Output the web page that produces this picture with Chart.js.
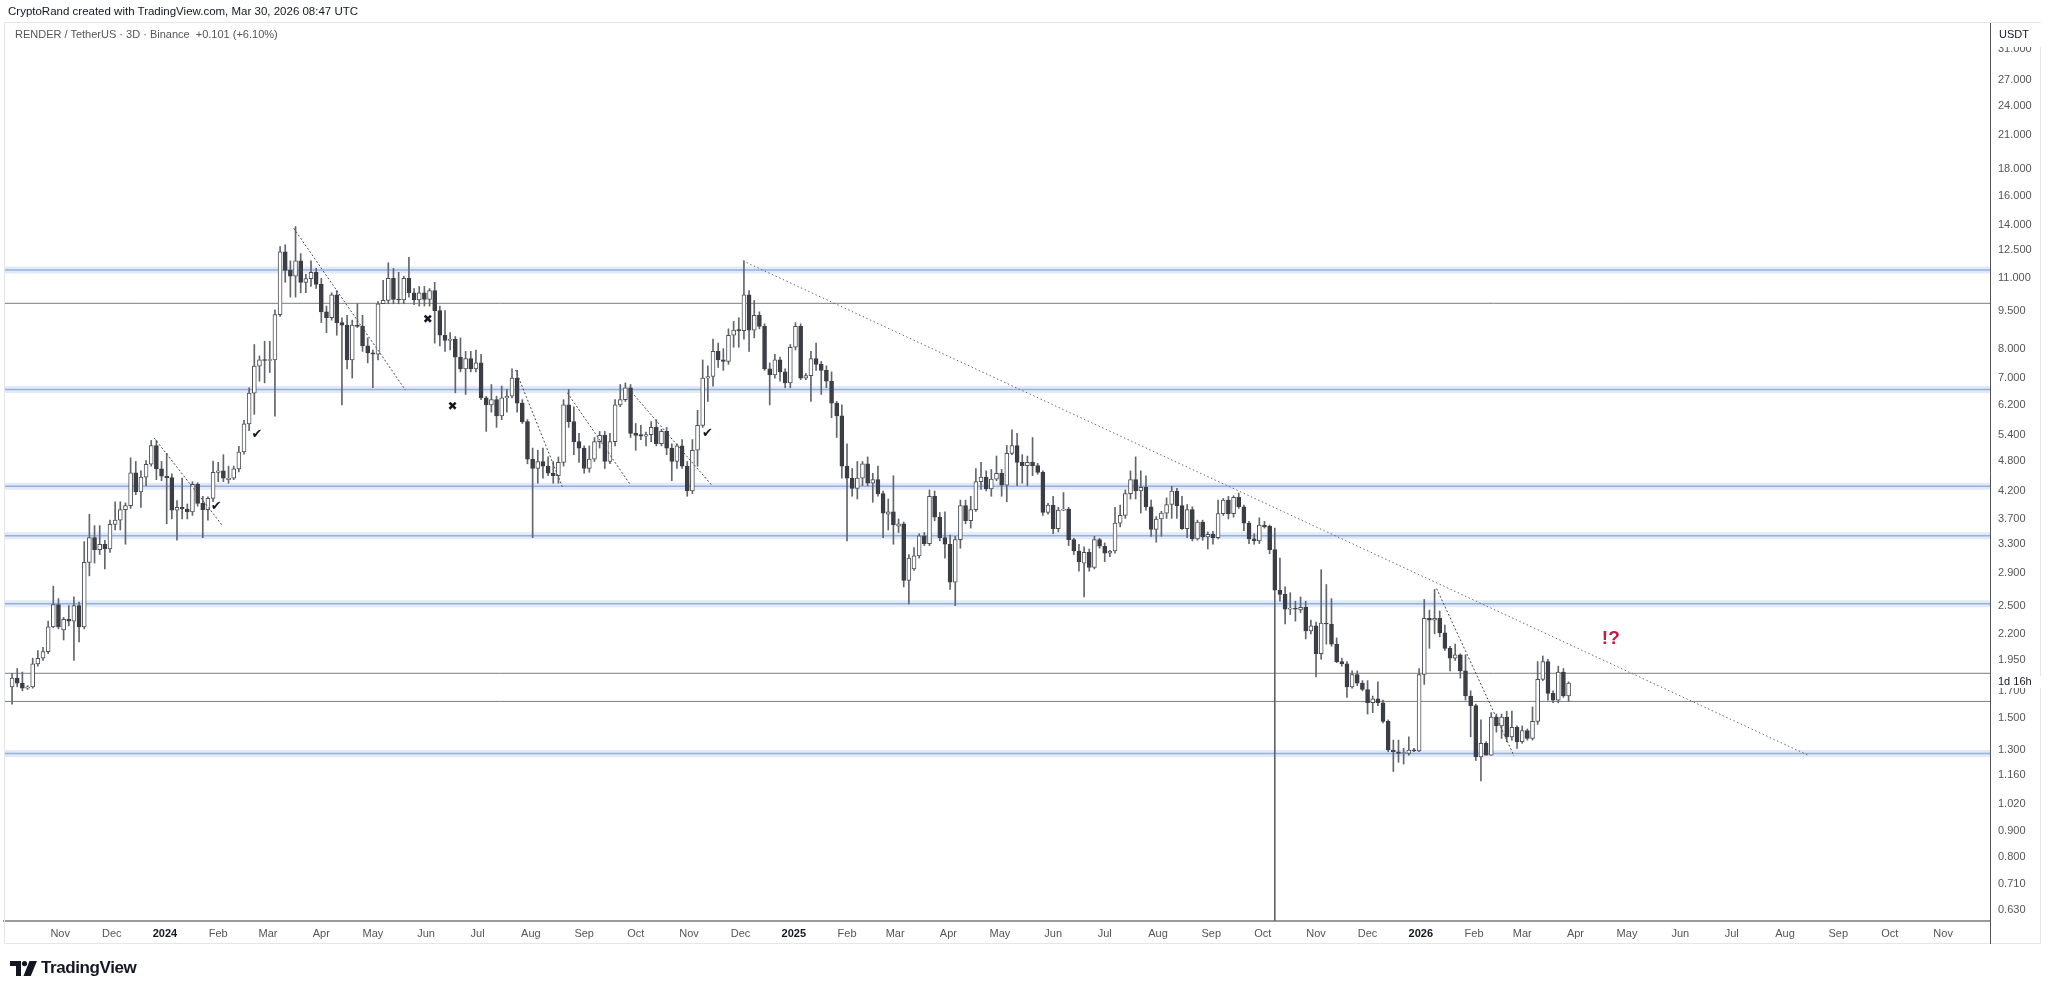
<!DOCTYPE html>
<html>
<head>
<meta charset="utf-8">
<title>RENDER / TetherUS 3D</title>
<script src="https://cdn.jsdelivr.net/npm/chart.js@4.4.1/dist/chart.umd.min.js"></script>
<style>
  html, body { margin: 0; padding: 0; background: #fff; }
  #wrap { position: relative; width: 2048px; height: 994px; overflow: hidden; font-family: "Liberation Sans", Arial, sans-serif; }
  #chart { position: absolute; left: 0; top: 0; }
  .credit { position: absolute; left: 8px; top: 5px; font-size: 11.5px; color: #131722; }
  .symbol { position: absolute; left: 15px; top: 28px; font-size: 11px; color: #555; }
  .logo { position: absolute; left: 10px; top: 958px; display: flex; align-items: center; gap: 4px; }
  .logo span { font-size: 17px; font-weight: 700; color: #131722; letter-spacing: -0.4px; }
</style>
</head>
<body>
<div id="wrap">
  <canvas id="chart" width="2048" height="994"></canvas>
  <div class="credit">CryptoRand created with TradingView.com, Mar 30, 2026 08:47 UTC</div>
  <div class="symbol">RENDER / TetherUS · 3D · Binance&nbsp; +0.101 (+6.10%)</div>
  <div class="logo">
    <svg width="27" height="15" viewBox="0 0 27 15"><path d="M0 0h11v15H6V5H0z" fill="#131722"/><circle cx="14.5" cy="2.6" r="2.6" fill="#131722"/><path d="M19.5 0h7.5l-6.2 15h-7.3z" fill="#131722"/></svg>
    <span>TradingView</span>
  </div>
</div>
<script>
/* ================== DATA ================== */
// 3-day candles, [open, high, low, close]; first candle opens 2023-10-04
const FIRST_CANDLE = "2023-10-04";
const STEP_DAYS = 3;

const candles2023 = [
  [1.73,1.84,1.60,1.80],[1.80,1.88,1.73,1.76],[1.76,1.85,1.70,1.72],[1.72,1.74,1.71,1.73],[1.73,1.97,1.72,1.92],
  [1.92,2.04,1.90,1.97],[1.97,2.07,1.95,2.03],[2.03,2.33,2.01,2.27],[2.27,2.73,2.26,2.51],[2.51,2.58,2.25,2.27],
  [2.24,2.37,2.14,2.35],[2.35,2.50,2.28,2.33],[2.33,2.60,1.95,2.50],[2.50,2.54,2.12,2.27],[2.27,3.34,2.25,3.04],
  [3.04,3.78,2.86,3.40],[3.40,3.59,3.03,3.22],[3.22,3.59,3.15,3.30],[3.30,3.36,2.95,3.23],[3.23,3.68,3.18,3.61],
  [3.61,4.00,3.52,3.68],[3.68,4.00,3.52,3.86],[3.86,3.98,3.30,3.93],[3.93,4.88,3.88,4.56],[4.56,4.80,4.13,4.18],
  [4.18,4.60,3.90,4.47],[4.47,4.82,4.30,4.74],[4.74,5.28,4.70,5.16],[5.16,5.28,4.42,4.64],[4.64,4.80,4.40,4.49]
];

const candles2024 = [
  [4.49,4.98,3.62,4.46],[4.46,4.54,3.70,3.85],[3.85,4.02,3.36,3.90],[3.90,4.45,3.70,3.87],[3.87,3.96,3.70,3.82],
  [3.82,4.38,3.76,4.33],[4.33,4.36,3.92,3.97],[3.97,4.10,3.40,3.86],[3.86,4.09,3.68,4.06],[4.06,4.81,4.00,4.57],
  [4.57,4.78,4.38,4.60],[4.60,4.95,4.38,4.45],[4.42,4.70,4.35,4.45],
  [4.45,4.70,4.42,4.64],[4.64,5.14,4.58,5.01],[5.01,5.78,4.96,5.69],[5.69,6.70,5.52,6.54],[6.54,8.15,5.94,7.39],
  [7.39,7.74,6.90,7.60],[7.60,8.27,6.85,7.58],[7.58,8.27,7.18,7.60],[7.60,9.54,5.89,9.33],[9.33,12.7,9.26,12.4],
  [12.4,12.8,10.8,11.4],[11.4,11.9,10.1,11.1],[11.1,13.9,10.1,11.9],[11.9,12.3,10.3,10.8],[10.8,11.2,10.3,10.98],
  [10.98,11.9,10.6,11.3],[11.3,11.5,10.5,10.7],[10.7,11.0,9.0,9.45],[9.45,9.7,8.6,9.2],[9.2,10.3,9.1,10.2],
  [10.2,10.4,8.5,9.0],[9.0,9.2,6.2,8.9],[8.9,9.3,7.3,7.6],[7.6,9.1,7.0,8.9],[8.9,9.8,8.8,8.85],
  [8.85,9.3,7.9,8.1],[8.1,8.4,7.5,7.85],[7.85,7.95,6.7,7.8],[7.8,9.9,7.6,9.8],[9.8,10.9,9.8,9.95],
  [9.95,11.8,9.8,11.0],[11.0,11.5,9.8,10.0],[10.0,11.3,9.8,9.97],[9.97,11.1,9.8,11.0],[11.0,12.1,10.1,10.3],
  [10.3,10.5,9.76,9.97],[9.97,10.6,9.7,10.3],[10.3,10.6,9.7,10.0],[10.0,10.5,9.7,10.4],[10.4,10.8,8.2,9.5],
  [9.5,9.7,8.1,8.5],[8.5,9.5,7.9,8.3],[8.3,8.6,7.95,8.35],[8.35,8.45,6.55,7.7],
  [7.7,8.4,7.2,7.3],[7.3,7.9,6.5,7.65],[7.65,7.9,7.2,7.3],[7.3,7.95,7.2,7.5],[7.5,7.8,6.35,6.4],
  [6.4,6.45,5.5,6.2],[6.2,6.8,6.0,6.35],[6.35,6.45,5.6,5.9],[5.9,6.75,5.8,6.4],[6.4,6.65,6.0,6.45],
  [6.45,7.3,6.4,7.0],[7.0,7.25,6.0,6.25],[6.25,6.35,5.7,5.75],[5.75,5.8,4.75,4.85],[4.85,5.1,3.4,4.65],
  [4.65,5.05,4.35,4.8],[4.8,5.1,4.45,4.7],[4.7,4.9,4.5,4.55],[4.55,4.8,4.35,4.5],[4.5,4.9,4.35,4.78],
  [4.78,6.35,4.7,6.2],[6.2,6.65,5.6,5.75],[5.75,6.15,4.95,5.25],[5.25,5.45,4.78,5.1],[5.1,5.15,4.55,4.65],
  [4.65,5.15,4.57,4.85],[4.85,5.35,4.8,5.25],[5.25,5.5,5.1,5.4],[5.4,5.5,4.65,4.8],[4.8,5.45,4.75,5.25],
  [5.25,6.35,5.15,6.2],[6.2,6.8,6.15,6.35],[6.35,6.85,6.3,6.7],[6.7,6.8,5.35,5.45],[5.45,5.7,5.05,5.4],
  [5.42,5.65,5.3,5.38],[5.38,5.48,5.15,5.42],[5.42,5.75,5.25,5.6],[5.6,5.8,5.15,5.2],[5.2,5.55,5.15,5.5],
  [5.5,5.6,4.95,5.1],[5.1,5.2,4.4,4.8],[4.8,5.2,4.65,5.15],
  [5.15,5.3,4.65,4.7],[4.7,4.8,4.1,4.2],[4.2,5.3,4.15,5.05],[5.05,6.05,4.7,5.65],[5.65,7.6,5.6,7.0],
  [7.0,7.4,6.3,7.05],[7.05,8.35,6.75,7.9],[7.9,8.2,7.35,7.6],[7.6,8.0,7.25,7.55],[7.55,8.75,7.45,8.5],
  [8.5,9.05,8.05,8.7],[8.7,9.2,8.05,8.68],[8.68,11.9,8.35,10.2],[10.2,10.4,7.9,8.7],[8.7,9.95,8.4,9.3],
  [9.3,9.45,8.75,8.85],[8.85,8.95,7.25,7.3],[7.3,7.5,6.2,7.1],[7.1,7.8,7.0,7.6],[7.6,7.7,6.9,7.2],
  [7.2,7.3,6.7,6.85],[6.85,8.15,6.7,8.05]
];

const candles2025 = [
  [8.05,9.0,7.95,8.85],[8.85,8.95,6.95,7.0],[7.0,7.15,6.95,7.08],[7.08,7.9,6.3,7.65],[7.65,8.2,7.25,7.45],
  [7.45,7.55,6.5,7.25],[7.25,7.4,6.7,6.9],[6.9,7.2,5.85,6.25],[6.25,6.3,5.35,5.9],[5.9,6.2,4.45,4.7],
  [4.7,5.2,3.35,4.45],[4.45,4.65,4.1,4.25],[4.25,4.8,4.05,4.45],[4.45,4.8,4.3,4.75],[4.75,4.9,4.3,4.35],
  [4.35,4.55,3.99,4.42],[4.42,4.7,4.1,4.15],[4.15,4.2,3.4,3.8],[3.78,4.05,3.52,3.82],[3.82,4.5,3.3,3.6],
  [3.58,3.7,3.48,3.62],[3.62,3.65,2.72,2.8],
  [2.8,3.15,2.52,3.1],[2.95,3.25,2.93,3.13],[3.13,3.46,3.1,3.43],[3.43,3.48,3.28,3.31],[3.31,4.22,3.28,4.1],
  [4.1,4.2,3.67,3.73],[3.73,3.81,3.35,3.4],[3.4,3.82,3.1,3.3],[3.3,3.44,2.69,2.78],[2.78,3.42,2.5,3.37],
  [3.37,4.03,3.24,3.93],[3.93,4.03,3.62,3.67],[3.67,4.1,3.55,3.86],[3.86,4.65,3.83,4.38],[4.38,4.78,4.23,4.47],
  [4.47,4.6,4.2,4.24],[4.24,4.63,4.1,4.43],[4.43,4.92,4.4,4.55],[4.55,4.63,4.1,4.31],[4.31,5.16,4.0,4.98],
  [4.98,5.54,4.95,5.16],[5.16,5.45,4.3,4.78],[4.78,4.95,4.35,4.71],[4.71,4.92,4.3,4.78],[4.78,5.35,4.5,4.71],
  [4.71,4.76,4.53,4.57],[4.57,4.6,3.76,3.81],[3.81,3.97,3.78,3.94],[3.94,4.1,3.46,3.54],[3.54,3.9,3.49,3.85],
  [3.85,4.17,3.84,3.87],[3.87,3.9,3.28,3.37],[3.37,3.39,3.15,3.2],[3.2,3.3,2.92,3.05],[3.03,3.26,2.6,3.18],
  [3.18,3.23,2.92,2.97],[2.97,3.42,2.95,3.37],[3.37,3.39,3.24,3.27],[3.27,3.32,3.05,3.17],[3.17,3.21,3.12,3.2],
  [3.2,3.9,3.17,3.63],[3.63,3.94,3.57,3.76],[3.76,4.22,3.71,4.15],
  [4.15,4.6,4.05,4.42],[4.42,4.9,4.05,4.2],[4.2,4.6,3.8,4.27],[4.27,4.5,3.85,3.91],[3.91,4.03,3.42,3.53],
  [3.53,3.74,3.33,3.7],[3.7,3.83,3.42,3.8],[3.8,4.07,3.71,3.95],[3.95,4.29,3.71,4.2],[4.2,4.25,3.71,3.93],
  [3.93,4.1,3.53,3.54],[3.54,3.95,3.4,3.86],[3.86,3.91,3.35,3.38],[3.38,3.68,3.36,3.65],[3.65,3.68,3.36,3.41],
  [3.41,3.49,3.23,3.45],[3.45,3.5,3.3,3.4],[3.4,4.03,3.38,3.79],[3.79,4.06,3.76,4.03],[4.03,4.1,3.7,3.79],
  [3.79,4.11,3.73,4.08],[4.08,4.16,3.88,3.91],[3.91,3.94,3.51,3.63],[3.63,3.66,3.31,3.38],[3.38,3.46,3.3,3.35],
  [3.35,3.72,3.31,3.6],[3.6,3.66,3.55,3.57],[3.58,3.6,3.16,3.22],[3.22,3.55,0.4,2.68],[2.68,3.1,2.55,2.63],
  [2.63,2.72,2.3,2.46],[2.46,2.65,2.4,2.47],[2.47,2.55,2.33,2.46],[2.45,2.6,2.42,2.48],[2.48,2.55,2.15,2.23],
  [2.23,2.34,2.2,2.28],[2.28,2.32,1.81,2.01],[2.01,2.94,1.96,2.31],[2.31,2.75,2.1,2.3],[2.3,2.58,2.08,2.1],
  [2.1,2.16,1.93,1.94],[1.94,1.97,1.9,1.92],[1.92,1.94,1.65,1.73],[1.73,1.86,1.72,1.83],
  [1.83,1.86,1.74,1.76],[1.76,1.78,1.70,1.71],[1.71,1.78,1.53,1.61],[1.61,1.66,1.54,1.64],[1.64,1.77,1.59,1.61],
  [1.61,1.63,1.47,1.48],[1.48,1.49,1.29,1.30],[1.30,1.36,1.18,1.29],[1.29,1.36,1.23,1.28],[1.28,1.31,1.22,1.285],
  [1.28,1.38,1.27,1.30],[1.30,1.31,1.29,1.295],[1.295,1.88,1.29,1.83]
];

const candles2026 = [
  [1.83,2.57,1.75,2.36],[2.36,2.45,2.06,2.34],[2.34,2.69,2.2,2.36],[2.36,2.44,2.17,2.21],[2.21,2.29,2.04,2.06],
  [2.06,2.08,1.86,1.97],[1.97,2.1,1.95,2.0],[2.0,2.01,1.8,1.86],[1.86,2.0,1.63,1.66],[1.66,1.7,1.38,1.59],
  [1.59,1.6,1.24,1.26],[1.26,1.49,1.13,1.34],[1.34,1.35,1.27,1.27],[1.27,1.54,1.27,1.51],[1.51,1.53,1.41,1.45],
  [1.45,1.53,1.37,1.51],[1.51,1.55,1.35,1.38],[1.38,1.55,1.36,1.44],[1.44,1.45,1.31,1.35],[1.35,1.45,1.34,1.42],
  [1.42,1.43,1.36,1.37],[1.37,1.58,1.36,1.48],[1.48,1.94,1.46,1.79],[1.79,1.99,1.78,1.94],[1.94,1.96,1.63,1.68],
  [1.68,1.70,1.61,1.63],[1.63,1.90,1.61,1.85],[1.85,1.88,1.65,1.66],[1.66,1.77,1.62,1.76]
];

// price scale labels
const priceTicks = [31, 27, 24, 21, 18, 16, 14, 12.5, 11, 9.5, 8, 7, 6.2, 5.4, 4.8, 4.2, 3.7, 3.3, 2.9,
  2.5, 2.2, 1.95, 1.7, 1.5, 1.3, 1.16, 1.02, 0.9, 0.8, 0.71, 0.63];
// time scale labels, one per month from Nov 2023
const monthLabels = ["Nov","Dec","2024","Feb","Mar","Apr","May","Jun","Jul","Aug","Sep","Oct","Nov","Dec",
  "2025","Feb","Mar","Apr","May","Jun","Jul","Aug","Sep","Oct","Nov","Dec",
  "2026","Feb","Mar","Apr","May","Jun","Jul","Aug","Sep","Oct","Nov"];

// drawings (days since 2024-01-01, price)
const blueLevels = [11.42, 6.65, 4.29, 3.43, 2.52, 1.28];
const grayLevels = [9.82, 1.84, 1.62];
const trendLines = [
  [336.4, 11.9, 956.4, 1.27],
  [74.9, 13.8, 140, 6.63],
  [-6.3, 5.34, 33.2, 3.60],
  [204.1, 7.26, 231.3, 4.28],
  [234.2, 6.55, 271.1, 4.31],
  [270.1, 6.66, 318.3, 4.31],
  [740.2, 2.70, 785.3, 1.265]
];
const checkMarks = [[29.8, 3.92], [53.6, 5.41], [315.8, 5.45]];
const crossMarks = [[153, 9.11], [167.4, 6.14]];
const noteMark = [841.6, 2.15, "!?"];

/* ================== SCALES / STYLE ================== */
const DAY_MS = 86400000;
const EPOCH = Date.UTC(2024, 0, 1);
const X_MIN = -93.7, X_MAX = 1062.3;
const Y_MIN = 0.5996, Y_MAX = 34.93;
const FONT = '"Liberation Sans", Arial, sans-serif';

const WICK = "#62656c";
const DOWN = "#3b3e45";
const UP_LINE = "#4d5057";

const candles = [...candles2023, ...candles2024, ...candles2025, ...candles2026];
const firstDay = (Date.parse(FIRST_CANDLE + "T00:00:00Z") - EPOCH) / DAY_MS;
const candleDays = candles.map((c, i) => firstDay + STEP_DAYS * i);

const monthDays = monthLabels.map((l, i) => (Date.UTC(2023, 10 + i, 1) - EPOCH) / DAY_MS);
const isYear = i => /^\d{4}$/.test(monthLabels[i] || "");

function levelData(v) {
    return [{ x: X_MIN, y: v }, { x: X_MAX, y: v }];
}

const datasets = [];

blueLevels.forEach(v => {
    datasets.push({ type: "line", data: levelData(v), borderColor: "rgba(140,172,228,0.26)", borderWidth: 7, pointRadius: 0, order: 9 });
    datasets.push({ type: "line", data: levelData(v), borderColor: "rgba(105,140,205,0.62)", borderWidth: 1.5, pointRadius: 0, order: 8 });
});
grayLevels.forEach(v => {
    datasets.push({ type: "line", data: levelData(v), borderColor: "#7d7d7d", borderWidth: 1, pointRadius: 0, order: 8 });
});

datasets.push({
    type: "bar",
    data: candles.map((c, i) => ({ x: candleDays[i], y: [c[2], c[1]] })),
    backgroundColor: WICK,
    barThickness: 1,
    grouped: false,
    order: 3
});
datasets.push({
    type: "bar",
    data: candles.map((c, i) => ({ x: candleDays[i], y: [Math.min(c[0], c[3]), Math.max(c[0], c[3])] })),
    backgroundColor: candles.map(c => c[3] >= c[0] ? "#ffffff" : DOWN),
    borderColor: candles.map(c => c[3] >= c[0] ? UP_LINE : DOWN),
    borderWidth: 1,
    borderSkipped: false,
    barThickness: 4,
    minBarLength: 1,
    grouped: false,
    order: 2
});

trendLines.forEach((t, i) => {
    datasets.push({
        type: "line",
        data: [{ x: t[0], y: t[1] }, { x: t[2], y: t[3] }],
        borderColor: i === 0 ? "#6a6a6a" : "#4a4a4a",
        borderWidth: 1,
        borderDash: i === 0 ? [1.5, 2.5] : [2, 2],
        pointRadius: 0,
        order: 1
    });
});

/* ================== OVERLAYS ================== */
const decor = {
    id: "decor",
    afterDatasetsDraw(chart) {
        const { ctx, scales: { x, y } } = chart;
        ctx.save();
        ctx.textAlign = "center";
        ctx.textBaseline = "middle";
        ctx.fillStyle = "#131722";
        ctx.font = '13px "DejaVu Sans"';
        checkMarks.forEach(([d, v]) => ctx.fillText("\u2714", x.getPixelForValue(d), y.getPixelForValue(v)));
        ctx.font = '12px "DejaVu Sans"';
        crossMarks.forEach(([d, v]) => ctx.fillText("\u2716", x.getPixelForValue(d), y.getPixelForValue(v)));
        ctx.fillStyle = "#c41a3b";
        ctx.font = "bold 19px " + FONT;
        ctx.fillText(noteMark[2], x.getPixelForValue(noteMark[0]), y.getPixelForValue(noteMark[1]));
        ctx.restore();
    },
    afterDraw(chart) {
        const { ctx, chartArea: a } = chart;
        ctx.save();
        // pane frame
        ctx.strokeStyle = "#e4e6ea";
        ctx.lineWidth = 1;
        ctx.strokeRect(4.5, 22.5, 2036, 921);
        // price axis line through the time axis row
        ctx.strokeStyle = "#555";
        ctx.beginPath();
        ctx.moveTo(a.right + 0.5, a.bottom);
        ctx.lineTo(a.right + 0.5, 944);
        ctx.stroke();
        // currency label
        ctx.fillStyle = "#fff";
        ctx.fillRect(a.right + 2, 23, 50, 24);
        ctx.fillStyle = "#131722";
        ctx.font = "11px " + FONT;
        ctx.textAlign = "center";
        ctx.textBaseline = "middle";
        ctx.fillText("USDT", 2014, 35);
        // bar countdown
        ctx.fillStyle = "#fff";
        ctx.fillRect(a.right + 2, 676, 50, 12);
        ctx.fillStyle = "#131722";
        ctx.textAlign = "left";
        ctx.fillText("1d 16h", 1998, 682);
        ctx.restore();
    }
};

/* ================== CHART ================== */
new Chart(document.getElementById("chart"), {
    type: "bar",
    data: { datasets },
    options: {
        responsive: false,
        animation: false,
        devicePixelRatio: 1,
        layout: { padding: { top: 23, left: 4, right: 0, bottom: 0 } },
        plugins: { legend: { display: false }, tooltip: { enabled: false } },
        scales: {
            x: {
                type: "linear",
                min: X_MIN,
                max: X_MAX,
                offset: false,
                grid: { display: false, drawTicks: false },
                border: { display: true, color: "#9a9a9a", width: 2 },
                afterFit: s => { s.height = 73; },
                afterBuildTicks: s => { s.ticks = monthDays.map(v => ({ value: v })); },
                ticks: {
                    autoSkip: false,
                    maxRotation: 0,
                    padding: 6,
                    color: ctx => isYear(ctx.index) ? "#131722" : "#555",
                    font: ctx => ({ family: FONT, size: 11, weight: isYear(ctx.index) ? "bold" : "normal" }),
                    callback: (v, i) => monthLabels[i]
                }
            },
            y: {
                type: "logarithmic",
                position: "right",
                min: Y_MIN,
                max: Y_MAX,
                grid: { display: false, drawTicks: false },
                border: { display: true, color: "#555", width: 1 },
                afterFit: s => { s.width = 58; },
                afterBuildTicks: s => { s.ticks = priceTicks.map(v => ({ value: v })); },
                ticks: {
                    padding: 8,
                    color: "#555",
                    font: { family: FONT, size: 11 },
                    callback: v => Number(v).toFixed(3)
                }
            }
        }
    },
    plugins: [decor]
});
</script>
</body>
</html>
